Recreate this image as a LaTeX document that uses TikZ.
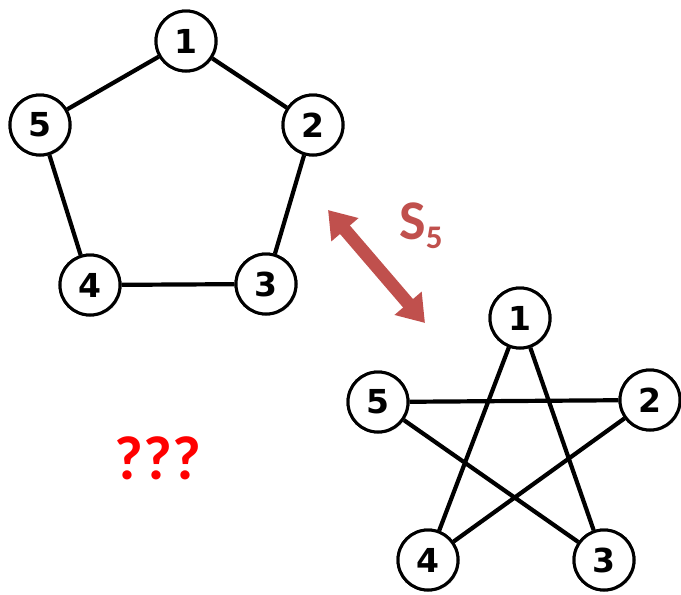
\documentclass[tikz,border=0pt]{standalone}
\usepackage{fontspec}
\setmainfont{Carlito}
\newfontfamily\digitfont{DejaVu Sans}
\usetikzlibrary{arrows.meta,shadows}
\definecolor{permred}{HTML}{C0504D}
\begin{document}
\begin{tikzpicture}[x=1pt,y=-1pt,
  vertex/.style={circle,draw=black,line width=3pt,fill=white,minimum size=60pt,inner sep=0pt,
    font=\digitfont\bfseries\fontsize{33}{33}\selectfont,
    drop shadow={opacity=0.25,shadow xshift=1.5pt,shadow yshift=-1.5pt}},
  edge/.style={line width=4.2pt,black},
  swap/.style={permred,line width=13pt,
    {Triangle[length=26pt,width=34pt]}-{Triangle[length=26pt,width=34pt]}}]
\useasboundingbox (0,0) rectangle (681,595);

% pentagon C5
\node[vertex] (p1) at (186,41) {1};
\node[vertex] (p2) at (313,125) {2};
\node[vertex] (p3) at (266,284) {3};
\node[vertex] (p4) at (90,285) {4};
\node[vertex] (p5) at (40,125) {5};

% pentagram
\node[vertex] (s1) at (520,318) {1};
\node[vertex] (s2) at (650,400) {2};
\node[vertex] (s3) at (604,560) {3};
\node[vertex] (s4) at (428,560) {4};
\node[vertex] (s5) at (378,402) {5};

% edges, with the vertices laid over them again afterwards
\draw[edge] (p1) -- (p2) -- (p3) -- (p4) -- (p5) -- (p1);
\draw[edge] (s1) -- (s4) (s1) -- (s3) (s5) -- (s2) (s5) -- (s3) (s2) -- (s4);

\foreach \t/\x/\y in {1/186/41,2/313/125,3/266/284,4/90/285,5/40/125,
                      1/520/318,2/650/400,3/604/560,4/428/560,5/378/402}
  \node[vertex] at (\x,\y) {\t};

% symmetric group action
\coordinate (a1) at (328,210);
\coordinate (a2) at (425,323);
\draw[swap] (a1) -- (a2);
\node[permred,font=\bfseries] (sym) at (421,226)
  {{\fontsize{56}{56}\selectfont S}{\fontsize{33}{33}\selectfont\raisebox{-9pt}{5}}};

\node[red,font=\bfseries\fontsize{62}{62}\selectfont] (q) at (158,458) {???};
\end{tikzpicture}
\end{document}
